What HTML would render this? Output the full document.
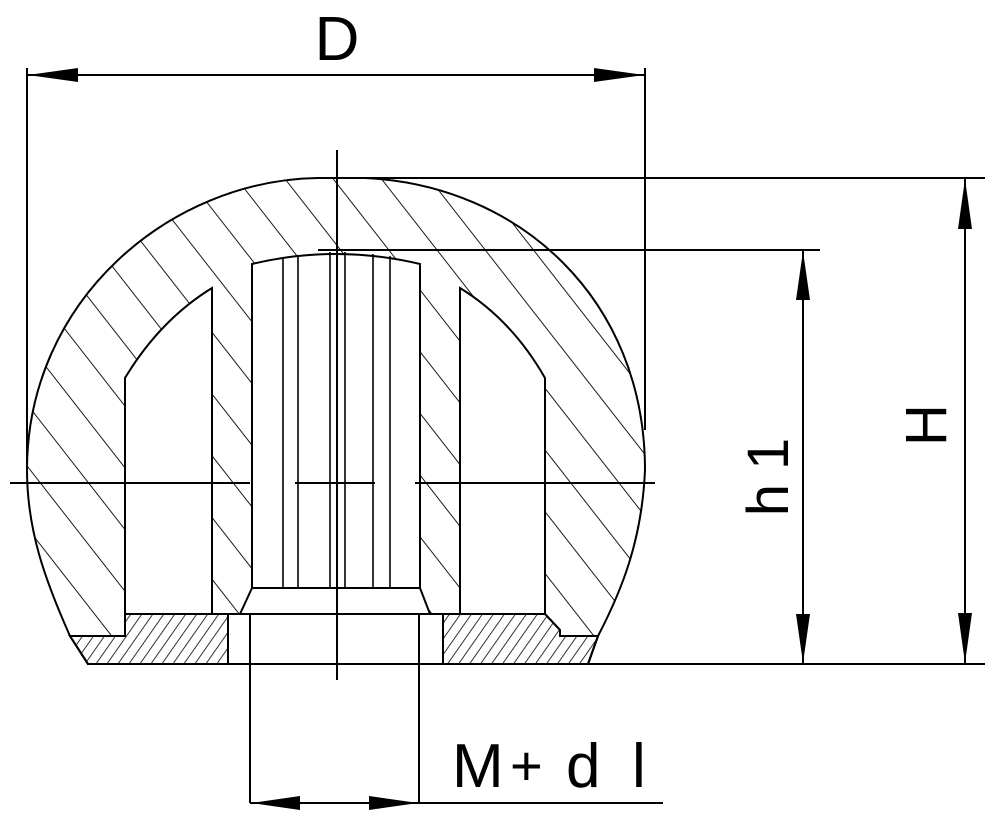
<!DOCTYPE html>
<html><head><meta charset="utf-8"><style>
html,body{margin:0;padding:0;background:#fff;}
svg{display:block;}
text{font-family:"Liberation Sans",sans-serif;fill:#000;}
</style></head><body>
<svg width="1000" height="825" viewBox="0 0 1000 825" xmlns="http://www.w3.org/2000/svg">
<defs>
<pattern id="hb" patternUnits="userSpaceOnUse" width="38" height="38" patternTransform="rotate(-38)">
<line x1="0" y1="0" x2="0" y2="38" stroke="#000" stroke-width="1.8"/>
</pattern>
<pattern id="hf" patternUnits="userSpaceOnUse" width="9" height="9" patternTransform="rotate(35)">
<line x1="0" y1="0" x2="0" y2="9" stroke="#000" stroke-width="1.6"/>
</pattern>
</defs>
<g stroke="#000" fill="none" stroke-width="2">
<path d="M318,178 L365,178 C520,185 645,300 645,470 C642,540 622,590 598,636 L588,664 L88,664 L70,636 C45,580 27,530 27,470 C27,300 170,180 318,178 Z" fill="url(#hb)"/>
<path d="M125,614 L125,378 Q160,320 212,288 L212,614 Z" fill="#fff"/>
<path d="M460,288 Q512,320 545,378 L545,614 L460,614 Z" fill="#fff"/>
<path d="M252,264 Q335,244 420,264 L420,588 L430,614 L240,614 L252,588 Z" fill="#fff"/>
<line x1="252" y1="588" x2="420" y2="588"/>
<g stroke-width="1.6">
<line x1="283" y1="258" x2="283" y2="588"/>
<line x1="298" y1="255" x2="298" y2="588"/>
<line x1="330" y1="252" x2="330" y2="588"/>
<line x1="345" y1="252" x2="345" y2="588"/>
<line x1="373" y1="254" x2="373" y2="588"/>
<line x1="390" y1="256" x2="390" y2="588"/>
</g>
<rect x="228" y="614" width="215" height="50" fill="#fff"/>
<line x1="125" y1="614" x2="545" y2="614"/>
<path d="M125,614 L228,614 L228,664 L88,664 L70,636 L125,636 Z" fill="#fff"/>
<path d="M125,614 L228,614 L228,664 L88,664 L70,636 L125,636 Z" fill="url(#hf)"/>
<path d="M443,614 L545,614 L560,630 L560,636 L598,636 L588,664 L443,664 Z" fill="#fff"/>
<path d="M443,614 L545,614 L560,630 L560,636 L598,636 L588,664 L443,664 Z" fill="url(#hf)"/>
<line x1="27" y1="68" x2="27" y2="470"/>
<line x1="645" y1="68" x2="645" y2="430"/>
<line x1="27" y1="75" x2="645" y2="75"/>
<line x1="318" y1="178" x2="985" y2="178"/>
<line x1="318" y1="250" x2="820" y2="250"/>
<line x1="588" y1="664" x2="985" y2="664"/>
<line x1="965" y1="178" x2="965" y2="664"/>
<line x1="803" y1="250" x2="803" y2="664"/>
<line x1="337" y1="150" x2="337" y2="680"/>
<line x1="10" y1="483" x2="250" y2="483"/>
<line x1="295" y1="483" x2="375" y2="483"/>
<line x1="415" y1="483" x2="655" y2="483"/>
<line x1="250" y1="614" x2="250" y2="803"/>
<line x1="419" y1="614" x2="419" y2="803"/>
<line x1="250" y1="803" x2="663" y2="803"/>
</g>
<g fill="#000">
<polygon points="28,75 78,68 78,82"/>
<polygon points="644,75 594,68 594,82"/>
<polygon points="965,179 958,229 972,229"/>
<polygon points="965,663 958,613 972,613"/>
<polygon points="803,251 796,300 810,300"/>
<polygon points="803,663 796,614 810,614"/>
<polygon points="251,803 300,796 300,810"/>
<polygon points="418,803 369,796 369,810"/>
</g>
<text x="337" y="60" font-size="62" text-anchor="middle">D</text>
<text transform="translate(946,425) rotate(-90)" font-size="58" text-anchor="middle">H</text>
<text transform="translate(788,470) rotate(-90)" font-size="58" text-anchor="middle" letter-spacing="14">h1</text>
<text x="452" y="787" font-size="62">M</text>
<text x="510" y="785" font-size="56">+</text>
<text x="566" y="787" font-size="62">d</text>
<text x="632" y="787" font-size="62">l</text>
</svg>
</body></html>
